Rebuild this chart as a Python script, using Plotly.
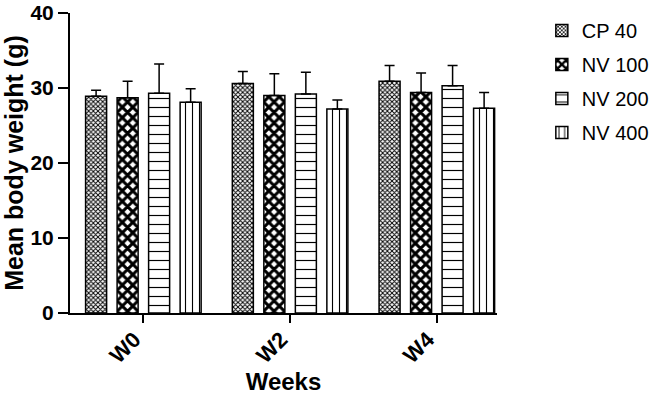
import plotly.graph_objects as go

weeks = ["W0", "W2", "W4"]
series_names = ["CP 40", "NV 100", "NV 200", "NV 400"]
cp40 = [28.9, 30.6, 30.9]
cp40_err = [0.8, 1.6, 2.1]
nv100 = [28.7, 29.0, 29.4]
nv100_err = [2.2, 2.9, 2.6]
nv200 = [29.3, 29.2, 30.3]
nv200_err = [3.9, 2.9, 2.7]
nv400 = [28.1, 27.2, 27.3]
nv400_err = [1.8, 1.2, 2.1]

values = [cp40, nv100, nv200, nv400]
errors = [cp40_err, nv100_err, nv200_err, nv400_err]
patterns = [
    dict(shape="x", size=3.3, solidity=0.5, fgcolor="black", bgcolor="white", fillmode="replace"),
    dict(shape="x", size=7.4, solidity=0.65, fgcolor="black", bgcolor="white", fillmode="replace"),
    dict(shape="-", size=9, solidity=0.13, fgcolor="black", bgcolor="white", fillmode="replace"),
    dict(shape="|", size=7, solidity=0.16, fgcolor="black", bgcolor="white", fillmode="replace"),
]

FONT = "Liberation Sans, Arial, Helvetica, sans-serif"

fig = go.Figure()
for i, (name, vals, errs, pat) in enumerate(zip(series_names, values, errors, patterns)):
    fig.add_trace(go.Bar(
        x=weeks, y=vals, name=name, legendgroup=name,
        marker=dict(color="white", pattern=pat, line=dict(color="black", width=1.5)),
        error_y=dict(type="data", symmetric=False, array=errs, arrayminus=[0] * len(errs),
                     color="black", thickness=1.5, width=5),
    ))

fig.update_layout(
    width=670, height=403,
    margin=dict(l=70, r=173, t=13, b=90, autoexpand=False),
    paper_bgcolor="white", plot_bgcolor="white",
    barmode="group", bargap=0.141, bargroupgap=0.333,
    font=dict(family=FONT, color="black"),
    showlegend=True,
    legend=dict(x=1.105, xanchor="left", y=1.007, yanchor="top",
                font=dict(size=20, family=FONT, color="black"),
                tracegroupgap=5, bgcolor="rgba(0,0,0,0)"),
    xaxis=dict(
        range=[-0.5, 2.41], showline=True, linecolor="black", linewidth=2,
        ticks="outside", ticklen=8, tickwidth=2, tickcolor="black",
        tickangle=-45, tickfont=dict(size=22, weight="bold"), automargin=False,
        ticklabelshift=-9, ticklabelstandoff=-5,
        title=dict(text="Weeks", font=dict(size=24, weight="bold"), standoff=2),
        showgrid=False, zeroline=False,
    ),
    yaxis=dict(
        range=[0, 40], tickvals=[0, 10, 20, 30, 40], showline=True, linecolor="black", linewidth=2,
        ticks="outside", ticklen=10, tickwidth=2, tickcolor="black",
        tickfont=dict(size=21, weight="bold"), automargin=False, ticklabeloverflow="allow",
        title=dict(text="Mean body weight (g)", font=dict(size=25, weight="bold"), standoff=8),
        showgrid=False, zeroline=False,
    ),
)

# remove the browser's default 8px body margin so the figure fills the window
fig.write_html("out.html", config={"displayModeBar": False},
               post_script="document.body.style.margin='0';")
